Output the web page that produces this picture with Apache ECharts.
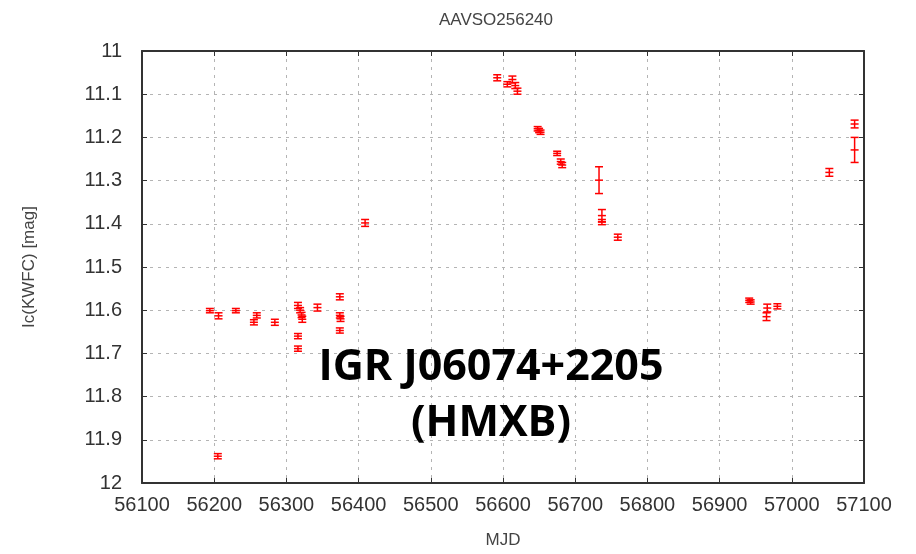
<!DOCTYPE html>
<html><head><meta charset="utf-8">
<script src="https://cdn.jsdelivr.net/npm/echarts@6/dist/echarts.min.js"></script>
<style>html,body{margin:0;padding:0;background:#fff}#c{width:916px;height:554px}</style>
</head><body><div id="c"></div>
<script>
const mjd = [56194,56206,56205,56230,56255,56259,56284,56316,56319,56321,56322,56316,56316,56343,56374,56374,56375,56374,56409,
  56592,56606,56613,56617,56620,56648,56650,56652,56675,56680,56682,56733,56737,56737,56759,
  56941,56943,56966,56965,56980,57052,57087,57087];
const mag = [11.601,11.613,11.938,11.601,11.628,11.612,11.628,11.589,11.600,11.611,11.621,11.660,11.689,11.594,11.569,11.612,11.620,11.647,11.398,
  11.062,11.077,11.066,11.080,11.093,11.180,11.184,11.188,11.237,11.256,11.264,11.299,11.381,11.396,11.431,
  11.577,11.581,11.595,11.615,11.591,11.281,11.169,11.229];
const err = [0.005,0.007,0.006,0.005,0.006,0.006,0.007,0.007,0.006,0.006,0.007,0.006,0.006,0.008,0.007,0.006,0.006,0.006,0.008,
  0.007,0.006,0.008,0.007,0.007,0.005,0.005,0.005,0.005,0.006,0.006,0.031,0.014,0.006,0.007,
  0.005,0.005,0.009,0.009,0.006,0.009,0.009,0.029];
const xTicks = ['56100','56200','56300','56400','56500','56600','56700','56800','56900','57000','57100'];
const yTicks = ['11','11.1','11.2','11.3','11.4','11.5','11.6','11.7','11.8','11.9','12'];
const title = 'AAVSO256240';
const xName = 'MJD';
const yName = 'Ic(KWFC) [mag]';
const note = ['IGR J06074+2205', '(HMXB)'];

const data = mjd.map((x, i) => [x, mag[i], mag[i] - err[i], mag[i] + err[i]]);
const chart = echarts.init(document.getElementById('c'), null, {renderer: 'canvas'});
const gridLine = {show: true, lineStyle: {color: '#b4b4b4', type: [3, 5], width: 1}};
const axisFont = {fontFamily: 'Liberation Sans', fontSize: 20, color: '#333'};
chart.setOption({
  animation: false,
  title: {text: title, left: 491, top: 7, textAlign: 'center',
    textStyle: {fontFamily: 'Liberation Sans', fontSize: 17, fontWeight: 'normal', color: '#444'}},
  grid: {left: 142, top: 51, right: 52, bottom: 68},
  xAxis: [{
    type: 'value', min: 56100, max: 57100, interval: 100,
    name: xName, nameLocation: 'middle', nameGap: 49,
    nameTextStyle: {fontFamily: 'Liberation Sans', fontSize: 17, color: '#444'},
    axisLine: {show: true, lineStyle: {color: '#333', width: 2}},
    axisTick: {show: true, inside: true, length: 5, lineStyle: {color: '#333'}},
    axisLabel: Object.assign({margin: 12, formatter: v => xTicks[Math.round((v - 56100) / 100)]}, axisFont),
    splitLine: gridLine
  }, {
    type: 'value', position: 'top', min: 56100, max: 57100, interval: 100,
    axisLine: {show: true, lineStyle: {color: '#333', width: 2}},
    axisTick: {show: true, inside: true, length: 5, lineStyle: {color: '#333'}},
    axisLabel: {show: false}, splitLine: {show: false}
  }],
  yAxis: [{
    type: 'value', inverse: true, min: 11, max: 12, interval: 0.1,
    name: yName, nameLocation: 'middle', nameGap: 104, nameRotate: 90,
    nameTextStyle: {fontFamily: 'Liberation Sans', fontSize: 17, color: '#444'},
    axisLine: {show: true, lineStyle: {color: '#333', width: 2}},
    axisTick: {show: true, inside: true, length: 5, lineStyle: {color: '#333'}},
    axisLabel: Object.assign({margin: 20, formatter: v => yTicks[Math.round((v - 11) * 10)]}, axisFont),
    splitLine: gridLine
  }, {
    type: 'value', position: 'right', inverse: true, min: 11, max: 12, interval: 0.1,
    axisLine: {show: true, lineStyle: {color: '#333', width: 2}},
    axisTick: {show: true, inside: true, length: 5, lineStyle: {color: '#333'}},
    axisLabel: {show: false}, splitLine: {show: false}
  }],
  graphic: [{
    type: 'text', z: 100,
    style: {text: note[0], x: 491, y: 368, textAlign: 'center', textVerticalAlign: 'middle',
      font: 'bold 43px "Open Sans", sans-serif', fill: '#000', stroke: '#fff', lineWidth: 0}
  }, {
    type: 'text', z: 100,
    style: {text: note[1], x: 491, y: 424, textAlign: 'center', textVerticalAlign: 'middle',
      font: 'bold 43px "Open Sans", sans-serif', fill: '#000'}
  }],
  series: [{
    type: 'custom', xAxisIndex: 0, yAxisIndex: 0,
    data: data,
    renderItem: function (params, api) {
      const x = api.value(0);
      const c = api.coord([x, api.value(1)]);
      const lo = api.coord([x, api.value(2)]);
      const hi = api.coord([x, api.value(3)]);
      const hw = 4;
      const st = {stroke: '#ff0000', lineWidth: 1.5};
      return {type: 'group', children: [
        {type: 'line', shape: {x1: c[0], y1: lo[1], x2: c[0], y2: hi[1]}, style: st},
        {type: 'line', shape: {x1: c[0] - hw, y1: lo[1], x2: c[0] + hw, y2: lo[1]}, style: st},
        {type: 'line', shape: {x1: c[0] - hw, y1: hi[1], x2: c[0] + hw, y2: hi[1]}, style: st},
        {type: 'line', shape: {x1: c[0] - hw, y1: c[1], x2: c[0] + hw, y2: c[1]}, style: st}
      ]};
    }
  }]
});
</script></body></html>
